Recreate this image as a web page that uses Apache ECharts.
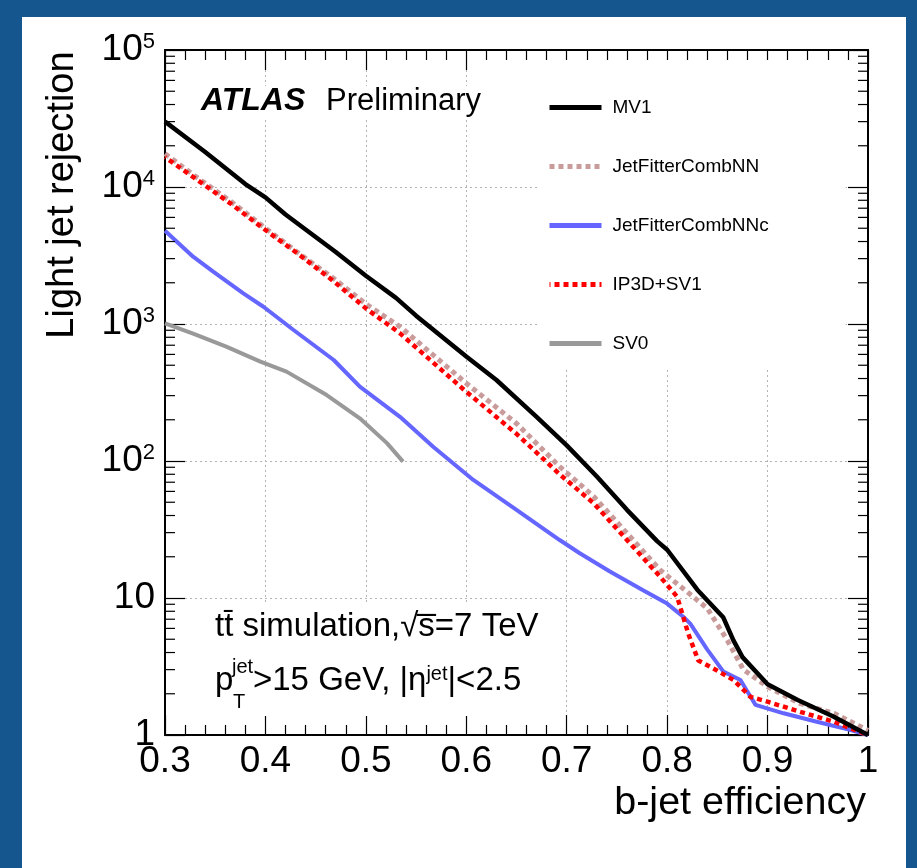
<!DOCTYPE html>
<html>
<head>
<meta charset="utf-8">
<script src="https://cdn.jsdelivr.net/npm/echarts@6/dist/echarts.min.js"></script>
<style>
  html, body { margin: 0; padding: 0; background: #16568f; }
  #chart { width: 917px; height: 868px; }
</style>
</head>
<body>
<div id="chart"></div>
<script>
// curves: b-jet efficiency -> light jet rejection
const effMV1 = [0.30, 0.34, 0.38, 0.40, 0.42, 0.44, 0.47, 0.50, 0.53, 0.55, 0.60, 0.63, 0.67, 0.70, 0.73, 0.76, 0.79, 0.80, 0.83, 0.856, 0.866, 0.875, 0.90, 0.93, 0.965, 1.0]
const rejMV1 = [30000, 18000, 10500, 8400, 6300, 4900, 3350, 2250, 1550, 1150, 580, 390, 210, 130, 77, 44, 26, 22.5, 11.5, 7.2, 4.9, 3.7, 2.35, 1.8, 1.37, 1.0]

const effNN = [0.30, 0.33, 0.365, 0.40, 0.434, 0.468, 0.50, 0.534, 0.60, 0.65, 0.693, 0.727, 0.76, 0.793, 0.826, 0.84, 0.86, 0.876, 0.90, 0.932, 0.966, 1.0]
const rejNN = [17500, 12000, 7900, 5000, 3250, 2150, 1400, 956, 369, 188, 91, 55, 29.7, 16, 10.2, 8.4, 4.9, 3.0, 2.25, 1.7, 1.44, 1.08]

const effNNc = [0.30, 0.328, 0.348, 0.378, 0.398, 0.428, 0.468, 0.494, 0.534, 0.567, 0.607, 0.65, 0.693, 0.713, 0.743, 0.776, 0.80, 0.816, 0.823, 0.84, 0.856, 0.873, 0.879, 0.888, 0.916, 0.949, 0.982, 1.0]
const rejNNc = [4800, 3100, 2410, 1674, 1337, 904, 546, 349, 210, 127, 72.7, 44, 26.5, 21.2, 15.6, 11.4, 9.1, 7.3, 6.5, 4.2, 2.9, 2.52, 2.13, 1.66, 1.44, 1.25, 1.09, 1.0]

const effIP3D = [0.30, 0.33, 0.365, 0.40, 0.434, 0.468, 0.50, 0.534, 0.60, 0.65, 0.693, 0.727, 0.76, 0.793, 0.81, 0.821, 0.831, 0.846, 0.866, 0.883, 0.90, 0.932, 0.966, 1.0]
const rejIP3D = [16500, 11560, 7600, 4850, 3190, 2050, 1300, 855, 320, 158, 80, 49, 26.5, 14.3, 10.2, 5.5, 3.5, 3.06, 2.52, 1.9, 1.75, 1.48, 1.25, 1.0]

const effSV0 = [0.30, 0.328, 0.361, 0.395, 0.421, 0.461, 0.494, 0.521, 0.537]
const rejSV0 = [1012, 851, 683, 531, 449, 303, 205, 135, 99]

const seriesNames = ['MV1', 'JetFitterCombNN', 'JetFitterCombNNc', 'IP3D+SV1', 'SV0']

// axis ticks and labels
const yTickValues = [1, 10, 100, 1000, 10000, 100000]
const yTickLabels = ['1', '10', '10{sup|2}', '10{sup|3}', '10{sup|4}', '10{sup|5}']
const yMinorDecades = [1, 10, 100, 1000, 10000]
const yMinorSteps = [2, 3, 4, 5, 6, 7, 8, 9]

const FONT = '"Liberation Sans", Arial, Helvetica, sans-serif'

function pairs(xs, ys) {
  return xs.map(function (x, i) { return [x, ys[i]] })
}

let yMinorTicks = []
yMinorDecades.forEach(function (d) {
  yMinorSteps.forEach(function (s) { yMinorTicks.push([0.3, d * s]) })
})

let myChart = echarts.init(document.getElementById('chart'))

let gridLine = { show: true, lineStyle: { color: '#b4b4b4', type: [2, 3], width: 1 } }
let frame = { show: true, lineStyle: { color: '#000', width: 2 } }

let option = {
  animation: false,
  backgroundColor: 'transparent',
  textStyle: { fontFamily: FONT },
  grid: { left: 165, right: 49, top: 50, bottom: 133 },
  legend: {
    data: seriesNames,
    orient: 'vertical',
    left: 537,
    top: 60,
    padding: [38, 77, 15, 10],
    backgroundColor: '#fff',
    itemWidth: 52,
    itemHeight: 4, // keeps the legend marker tiny so only the line sample shows
    itemGap: 40,
    itemStyle: { opacity: 0 },
    lineStyle: { width: 5 },
    textStyle: { fontSize: 19, color: '#000', fontFamily: FONT, padding: [0, 0, 0, 6] }
  },
  xAxis: [
    {
      type: 'value',
      min: 0.3,
      max: 1,
      interval: 0.1,
      position: 'bottom',
      axisLine: frame,
      axisTick: { inside: true, length: 20, lineStyle: { color: '#000', width: 1.2 } },
      minorTick: { show: true, splitNumber: 5, length: 10, lineStyle: { color: '#000', width: 1.2 } },
      splitLine: gridLine,
      axisLabel: {
        margin: 8,
        fontSize: 37,
        color: '#000',
        fontFamily: FONT,
        formatter: function (v) { return v >= 0.999 ? '1' : v.toFixed(1) }
      }
    },
    {
      type: 'value',
      min: 0.3,
      max: 1,
      interval: 0.1,
      position: 'top',
      axisLine: frame,
      axisTick: { inside: true, length: 20, lineStyle: { color: '#000', width: 1.2 } },
      minorTick: { show: true, splitNumber: 5, length: 10, lineStyle: { color: '#000', width: 1.2 } },
      splitLine: { show: false },
      axisLabel: { show: false }
    }
  ],
  yAxis: [
    {
      type: 'log',
      logBase: 10,
      min: 1,
      max: 100000,
      position: 'left',
      axisLine: frame,
      axisTick: { inside: true, length: 20, lineStyle: { color: '#000', width: 1.2 } },
      splitLine: gridLine,
      axisLabel: {
        margin: 10,
        fontSize: 37,
        color: '#000',
        fontFamily: FONT,
        formatter: function (v) {
          let i = yTickValues.findIndex(function (t) { return Math.abs(t - v) / t < 1e-6 })
          return i >= 0 ? yTickLabels[i] : ''
        },
        rich: {
          sup: { fontSize: 22, verticalAlign: 'top', fontFamily: FONT, color: '#000', padding: [0, 0, 16, 0] }
        }
      }
    },
    {
      type: 'log',
      logBase: 10,
      min: 1,
      max: 100000,
      position: 'right',
      axisLine: frame,
      axisTick: { inside: true, length: 20, lineStyle: { color: '#000', width: 1.2 } },
      splitLine: { show: false },
      axisLabel: { show: false }
    }
  ],
  graphic: [
    { type: 'rect', z: -10, shape: { x: 22, y: 17, width: 884, height: 870 }, style: { fill: '#fff' } },
    { type: 'rect', z: 1, shape: { x: 195, y: 86, width: 295, height: 34 }, style: { fill: '#fff' } },
    { type: 'rect', z: 1, shape: { x: 205, y: 604, width: 335, height: 112 }, style: { fill: '#fff' } },
    {
      type: 'text', z: 5, x: 201, y: 101,
      style: { text: 'ATLAS', font: 'italic bold 32px ' + FONT, fill: '#000', verticalAlign: 'middle' }
    },
    {
      type: 'text', z: 5, x: 326, y: 101,
      style: { text: 'Preliminary', font: '31px ' + FONT, fill: '#000', verticalAlign: 'middle' }
    },
    {
      type: 'text', z: 5, x: 215, y: 627,
      style: { text: 'tt\u0304 simulation,\u221as\u0305=7 TeV', font: '33px ' + FONT, fill: '#000', verticalAlign: 'middle' }
    },
    {
      type: 'text', z: 5, x: 215, y: 681,
      style: { text: 'p', font: '33px ' + FONT, fill: '#000', verticalAlign: 'middle' }
    },
    {
      type: 'text', z: 5, x: 232, y: 667,
      style: { text: 'jet', font: '20px ' + FONT, fill: '#000', verticalAlign: 'middle' }
    },
    {
      type: 'text', z: 5, x: 233, y: 702,
      style: { text: 'T', font: '20px ' + FONT, fill: '#000', verticalAlign: 'middle' }
    },
    {
      type: 'text', z: 5, x: 253, y: 681,
      style: {
        text: '>15 GeV, |\u03b7{s|jet}|<2.5',
        font: '33px ' + FONT, fill: '#000', verticalAlign: 'middle',
        rich: { s: { fontSize: 20, fontFamily: FONT, verticalAlign: 'top', padding: [0, 0, 14, 0] } }
      }
    },
    {
      type: 'text', z: 5, x: 63, y: 195, rotation: Math.PI / 2,
      style: { text: 'Light jet rejection', font: '38px ' + FONT, fill: '#000', align: 'center', verticalAlign: 'middle' }
    },
    {
      type: 'text', z: 5, x: 866, y: 803,
      style: { text: 'b-jet efficiency', font: '39.5px ' + FONT, fill: '#000', align: 'right', verticalAlign: 'middle' }
    }
  ],
  series: [
    {
      name: 'SV0', type: 'line', data: pairs(effSV0, rejSV0), symbol: 'none', z: 2,
      lineStyle: { color: '#999999', width: 4 }, itemStyle: { color: '#999999' }
    },
    {
      name: 'JetFitterCombNNc', type: 'line', data: pairs(effNNc, rejNNc), symbol: 'none', z: 2,
      lineStyle: { color: '#6565ff', width: 4 }, itemStyle: { color: '#6565ff' }
    },
    {
      name: 'JetFitterCombNN', type: 'line', data: pairs(effNN, rejNN), symbol: 'none', z: 2,
      lineStyle: { color: '#c99b9b', width: 5, type: [5, 4] }, itemStyle: { color: '#c99b9b' }
    },
    {
      name: 'IP3D+SV1', type: 'line', data: pairs(effIP3D, rejIP3D), symbol: 'none', z: 3,
      lineStyle: { color: '#ff0000', width: 4.5, type: [5, 4], dashOffset: 4 }, itemStyle: { color: '#ff0000' }
    },
    {
      name: 'MV1', type: 'line', data: pairs(effMV1, rejMV1), symbol: 'none', z: 4,
      lineStyle: { color: '#000000', width: 4.5 }, itemStyle: { color: '#000000' }
    },
    {
      // minor ticks of the log axis at 2..9 x 10^n, on both frame sides
      type: 'custom', data: yMinorTicks, silent: true, clip: false, z: 5,
      renderItem: function (params, api) {
        let l = api.coord([0.3, api.value(1)])
        let r = api.coord([1.0, api.value(1)])
        let st = { stroke: '#000', lineWidth: 1.2 }
        return {
          type: 'group',
          children: [
            { type: 'line', shape: { x1: l[0], y1: l[1], x2: l[0] + 10, y2: l[1] }, style: st },
            { type: 'line', shape: { x1: r[0], y1: r[1], x2: r[0] - 10, y2: r[1] }, style: st }
          ]
        }
      }
    }
  ]
}

myChart.setOption(option)

window.addEventListener('resize', function () {
  myChart.resize()
})
</script>
</body>
</html>
